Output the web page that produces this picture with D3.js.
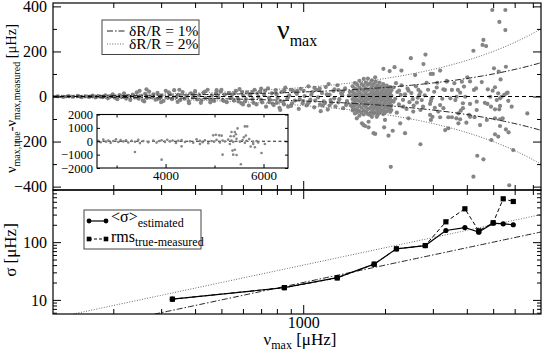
<!DOCTYPE html>
<html>
<head>
<meta charset="utf-8">
<script src="https://cdn.jsdelivr.net/npm/d3@7"></script>
<style>
body { margin: 0; background: #fff; }
text { font-family: "Liberation Serif", "DejaVu Serif", serif; fill: #000; }
</style>
</head>
<body>
<script>
// ---- data ----
// top panel: nu_max [uHz] vs (true - measured) [uHz]
var lowNuPoints = [[125,1],[131,-2],[137,2],[142,-1],[148,3],[153,-3],[158,1],[163,-2],[168,4],[172,-4],[176,2],[180,-1],
  [183,-3],[187,5],[191,-8],[195,2],[199,10],[203,-5],[207,-12],[211,6],[215,-2],[219,14],[223,-9],[227,3],[231,-15],[236,8],
  [240,-4],[244,18],[248,-10],[253,2],[257,-18],[262,12],[266,-6],[271,22],[276,-3],[281,9],[286,-14],[291,16],[296,-8],[301,4],
  [306,-20],[312,25],[317,-5],[323,11],[329,-12],[335,28],[341,-2],[347,7],[353,-16],[360,20],[366,-9],[372,3],[379,-22],[386,14],
  [393,-4],[400,24],[407,-13],[414,6],[422,-18],[430,17],[437,-7],[445,30],[453,-11],[461,5],[470,-20],[478,12],[487,-3],[496,21],
  [505,-15],[514,8],[523,-25],[532,15],[540,-6],[250,25],[300,-25],[350,30],[420,-28],[480,28],[260,-22],[380,-30],[455,-26],[500,30],
  [265,32],[290,-12],[320,18],[345,-24],[395,10],[435,22],[465,-14],[510,-20]];

var midNuPoints = [[548,10],[556,-18],[565,25],[574,-8],[583,33],[592,-30],[601,4],[611,-22],[621,18],[631,-40],[641,12],[651,-12],
  [662,30],[673,-35],[684,-2],[695,22],[706,-26],[718,8],[730,-45],[742,36],[754,-15],[766,14],[779,-38],[792,28],[805,-6],[818,-50],
  [832,20],[845,-24],[859,40],[873,-10],[888,5],[902,-42],[917,26],[932,-18],[948,12],[963,-55],[979,34],[995,-30],[1012,2],[1028,-40],
  [1045,45],[1062,-14],[1080,20],[1098,-48],[1116,30],[1134,-4],[1153,-36],[1172,16],[1191,-22],[1211,42],[1231,-58],[1251,8],[1272,-28],
  [1293,25],[1314,-44],[1336,50],[1358,-12],[1380,14],[1403,-52],[1426,36],[1449,-20],[1473,4],[1497,-40],
  [600,-35],[700,35],[800,-28],[900,30],[1000,-20],[1100,38],[1200,-30],[1300,-8],[1400,22],[650,20],[750,-25],[850,-35],[950,25],
  [1050,-26],[1150,35],[1250,-40],[1350,28],[1450,-30],[823,-60],[1160,-65],[880,-45],[1240,55],
  [544,-5],[560,15],[578,-22],[596,20],[615,-12],[636,5],[656,-28],[678,14],[700,-15],[724,26],[748,-6],[772,-32],[798,10],[825,-20],
  [852,28],[880,-2],[910,-30],[940,18],[971,-12],[1004,25],[1037,-34],[1071,8],[1107,-18],[1143,28],[1181,-40],[1221,10],[1261,-16],
  [1304,32],[1347,-26],[1392,6],[1438,-38],[1485,20]];

// dense clump around 1500-2100 uHz: one list of differences per nu column
var clumpNu = [1520,1550,1580,1610,1640,1670,1700,1730,1760,1790,1820,1850,1880,1910,1940,1970,2000,2030,2060,2090,2110];
var clumpDiff = [[45,22,5,-12,-30,-48,-62],[60,35,12,-5,-22,-40,-58,-75],[52,28,8,-15,-35,-55,-70],[70,40,18,0,-20,-42,-65,-85],
  [55,32,10,-8,-28,-50,-72],[78,48,25,3,-18,-38,-60,-80],[62,36,14,-6,-26,-46,-68],[80,52,28,6,-14,-34,-56,-78],
  [58,33,11,-10,-30,-52,-74],[72,44,20,-2,-24,-44,-66,-90],[56,30,8,-12,-34,-55,-76],[66,40,16,-5,-26,-48,-70],
  [50,26,4,-16,-38,-60,-82],[62,36,12,-8,-30,-52,-72],[45,20,0,-20,-42,-64],[55,30,8,-14,-36,-58,-78],[40,15,-6,-28,-50,-70],
  [48,24,2,-20,-44,-66],[34,10,-12,-34,-56],[42,18,-4,-26,-48,-68],[28,4,-18,-40,-60]];

var aroundClumpPoints = [[2489,170],[2818,186],[2770,144],[1973,123],[2168,130],[2080,113],[2298,115],[2581,95],[2946,100],[1840,85],
  [2195,59],[2253,26],[2440,26],[2655,29],[2846,61],[3115,61],[3375,70],[3323,29],[3035,21],[2150,-23],[2530,-12],[2620,-27],
  [2730,-16],[2930,-33],[3190,-38],[2540,-67],[2700,-60],[2930,-82],[2440,-97],[2210,-72],[2000,-104],[1690,-131],[1740,-137],
  [1840,-166],[2060,-174],[2135,-152],[1985,-137],[2700,-212],[2100,-312],[2950,-104],[3420,-141],[3330,-149],[1760,-82],[1865,-90],
  [1645,-119],[2285,7],[2675,7],[2970,-8],[2335,-45],[1575,-97],[1740,-112],[1665,-126],[1815,-163],[2370,-163],[2275,-119],
  [3190,115],[3000,100],[3375,66],[3280,32],[3525,29],[3710,29],[3835,66],[3480,-8],[3630,-16],[3870,-30],[3280,-52],[3140,-67],
  [3420,-92],[3190,-92],[2990,-90],[3660,-97],[4075,-82],
  [2150,40],[2180,-10],[2220,20],[2250,-35],[2300,50],[2330,-15],[2370,10],[2400,-55],[2420,35],[2460,-25],[2500,15],[2550,-40],
  [2600,45],[2640,-5],[2700,20],[2760,-45],[2800,5],[2880,30],[2950,-20],[3050,-50],[3100,40],[3250,-10]];

var highNuPoints = [[4963,384],[5545,384],[5270,331],[5545,295],[4604,251],[4710,224],[4230,203],[5035,125],[5240,110],[5570,132],
  [5325,76],[4017,85],[4110,67],[4540,64],[3600,59],[3905,44],[4325,36],[4250,29],[3780,17],[4780,32],[4980,26],[5080,41],[5220,14],
  [5600,14],[5650,17],[3670,-1],[3945,-1],[4880,-1],[5370,-1],[5490,7],[5300,-8],[5155,-16],[4350,-23],[4110,-33],[4660,-28],
  [4765,-33],[5685,-19],[5850,-45],[5300,-42],[4910,-45],[5080,-57],[5265,-57],[3870,-52],[3800,-63],[3725,-75],[4350,-60],
  [4110,-90],[4270,-92],[3525,-92],[3780,-101],[3985,-116],[3725,-119],[4475,-127],[4740,-104],[5080,-97],[5300,-101],[5420,-97],
  [5300,-131],[5570,-146],[5700,-159],[5080,-168],[5220,-178],[4925,-193],[5925,-238],[6680,-75],[4370,-263],[4605,-279],
  [4230,-356],[5730,-394],[4570,229]];

// inset: linear nu_max axis, wider difference range
var insetPoints = [[2627,40],[2675,-80],[2729,120],[2784,-30],[2831,60],[2879,-120],[2933,20],[2988,150],[3035,-60],[3083,90],
  [3137,-10],[3192,80],[3239,-90],[3307,30],[3375,-40],[3443,100],[3477,-140],[3545,10],[3647,-70],[3749,50],[3817,-100],[3872,20],
  [3919,70],[3987,-50],[4035,110],[4089,-20],[4144,60],[4212,-130],[4259,40],[4327,90],[4395,-60],[4497,0],[4565,-110],[4633,150],
  [4701,30],[4756,-70],[4803,80],[4871,-150],[4939,20],[4987,-40],[5041,100],[5109,-90],[5164,60],[5211,-20],[5279,120],[5313,-200],
  [5347,50],[5381,-60],[5449,180],[5517,-30],[5572,90],[5619,-120],[5653,40],[5708,160],[5789,-50],[5857,20],[5891,-90],
  [3375,-800],[3919,-1375],[4327,-380],[4701,-205],[4973,440],[5027,490],[5095,440],[5164,-1000],[5327,370],[5347,690],[5415,690],
  [5394,370],[5367,-700],[5415,-630],[5381,-1000],[5450,-1030],[5436,520],[5470,960],[5538,-1720],[5619,1110],[5667,1110],
  [5599,300],[5640,430],[5789,-200],[5823,-450],[5959,-880],[6027,-200],[5738,-400],[5145,420]];

// bottom panel
var binNu = [330, 852, 1334, 1824, 2203, 2812, 3350, 3935, 4425, 5000, 5445, 5930];
var sigmaEstimated = [10.3, 16.3, 24.3, 41.6, 76.6, 87.3, 159, 179, 149, 213, 208, 200];
var rmsTrueMeasured = [10.3, 16.3, 24.0, 41.6, 76.6, 87.3, 225, 378, 157, 217, 563, 506];

// radius uncertainties of the guide curves (delta nu = 2 * dR/R * nu)
var radiusErrors = [0.01, 0.02];
var radiusLabels = ["\u03B4R/R = 1%", "\u03B4R/R = 2%"];

// ticks
var xMajorTicks = [1000];
var xMinorTicks = [200,300,400,500,600,700,800,900,2000,3000,4000,5000,6000,7000];
var topMajorTicks = [-400,-200,0,200,400];
var topMinorTicks = [-300,-100,100,300];
var botMajorTicks = [10,100];
var botMinorTicks = [6,7,8,9,20,30,40,50,60,70,80,90,200,300,400,500,600,700,800];
var insetXTicks = [4000,6000];
var insetXMinor = [3000,5000];
var insetYTicks = [-2000,-1000,0,1000,2000];

// ---- layout ----
var W = 545, H = 353;
var L = 53, R = 541, T1 = 3, B1 = 190, B2 = 314;
var scatterGrey = "#858585";

var svg = d3.select("body").append("svg").attr("width", W).attr("height", H);

var x = d3.scaleLog().domain([120, 7500]).range([L, R]);
var yTop = d3.scaleLinear().domain([-415, 415]).range([B1, T1]);
var yBot = d3.scaleLog().domain([5.7, 800]).range([B2, B1]);
var xIn = d3.scaleLinear().domain([2600, 6500]).range([97, 288]);
var yIn = d3.scaleLinear().domain([-2000, 2000]).range([168, 114.5]);

svg.append("clipPath").attr("id", "clipTop").append("rect")
  .attr("x", L).attr("y", T1).attr("width", R - L).attr("height", B1 - T1);
svg.append("clipPath").attr("id", "clipBot").append("rect")
  .attr("x", L).attr("y", B1).attr("width", R - L).attr("height", B2 - B1);

// ---- top panel ----
var topG = svg.append("g").attr("clip-path", "url(#clipTop)");

var allTop = lowNuPoints.concat(midNuPoints, aroundClumpPoints, highNuPoints);
clumpNu.forEach(function (nu, i) {
  clumpDiff[i].forEach(function (d) { allTop.push([nu, d]); });
});

topG.selectAll("circle.pt").data(allTop).enter().append("circle")
  .attr("class", "pt")
  .attr("cx", function (d) { return x(d[0]); })
  .attr("cy", function (d) { return yTop(d[1]); })
  .attr("r", 2.1)
  .attr("fill", scatterGrey);

// guide curves, sampled along the x range
var nuSamples = d3.range(0, 201).map(function (i) { return x.invert(L + (R - L) * i / 200); });
var curveStyle = [
  { stroke: "#222", dash: "6,2,1.5,2", width: 1 },
  { stroke: "#666", dash: "1,1.6", width: 1 }
];

radiusErrors.forEach(function (f, k) {
  [1, -1].forEach(function (sign) {
    topG.append("path")
      .datum(nuSamples)
      .attr("fill", "none")
      .attr("stroke", curveStyle[k].stroke)
      .attr("stroke-width", curveStyle[k].width)
      .attr("stroke-dasharray", curveStyle[k].dash)
      .attr("d", d3.line()
        .x(function (nu) { return x(nu); })
        .y(function (nu) { return yTop(sign * 2 * f * nu); }));
  });
});

topG.append("line")
  .attr("x1", L).attr("x2", R).attr("y1", yTop(0)).attr("y2", yTop(0))
  .attr("stroke", "#000").attr("stroke-dasharray", "4,3").attr("stroke-width", 1);

// ---- inset ----
var inset = svg.append("g");
inset.append("rect")
  .attr("x", xIn.range()[0]).attr("y", yIn.range()[1])
  .attr("width", xIn.range()[1] - xIn.range()[0]).attr("height", yIn.range()[0] - yIn.range()[1])
  .attr("fill", "#fff");
inset.append("line")
  .attr("x1", xIn.range()[0]).attr("x2", xIn.range()[1]).attr("y1", yIn(0)).attr("y2", yIn(0))
  .attr("stroke", "#000").attr("stroke-dasharray", "3,2.5").attr("stroke-width", 0.9);
inset.selectAll("circle").data(insetPoints).enter().append("circle")
  .attr("cx", function (d) { return xIn(d[0]); })
  .attr("cy", function (d) { return yIn(d[1]); })
  .attr("r", 1.3)
  .attr("fill", scatterGrey);

function tidy(g, size) {
  g.select(".domain").remove();
  g.selectAll(".tick line").attr("stroke", "#000").attr("stroke-width", 1);
  g.selectAll(".tick text").attr("font-size", size).attr("font-family", "Liberation Serif");
}

inset.append("g").attr("transform", "translate(0," + yIn.range()[0] + ")")
  .call(d3.axisBottom(xIn).tickValues(insetXTicks).tickSize(-4).tickPadding(3).tickFormat(d3.format("d")))
  .call(tidy, 13);
inset.append("g").attr("transform", "translate(0," + yIn.range()[0] + ")")
  .call(d3.axisBottom(xIn).tickValues(insetXMinor).tickSize(-2.5).tickFormat(""))
  .call(tidy, 13);
inset.append("g").attr("transform", "translate(0," + yIn.range()[1] + ")")
  .call(d3.axisTop(xIn).tickValues(insetXTicks.concat(insetXMinor)).tickSize(-3).tickFormat(""))
  .call(tidy, 13);
inset.append("g").attr("transform", "translate(" + xIn.range()[0] + ",0)")
  .call(d3.axisLeft(yIn).tickValues(insetYTicks).tickSize(-3).tickPadding(4).tickFormat(d3.format("d")))
  .call(tidy, 12.5);
inset.append("g").attr("transform", "translate(" + xIn.range()[1] + ",0)")
  .call(d3.axisRight(yIn).tickValues(insetYTicks).tickSize(-3).tickFormat(""))
  .call(tidy, 13);
inset.append("rect")
  .attr("x", xIn.range()[0]).attr("y", yIn.range()[1])
  .attr("width", xIn.range()[1] - xIn.range()[0]).attr("height", yIn.range()[0] - yIn.range()[1])
  .attr("fill", "none").attr("stroke", "#000").attr("stroke-width", 1.1);

// ---- bottom panel ----
var botG = svg.append("g").attr("clip-path", "url(#clipBot)");
var botCurveStyle = [
  { stroke: "#222", dash: "6,2,1.5,2" },
  { stroke: "#666", dash: "1,1.6" }
];
radiusErrors.forEach(function (f, k) {
  botG.append("path")
    .datum(nuSamples)
    .attr("fill", "none")
    .attr("stroke", botCurveStyle[k].stroke)
    .attr("stroke-dasharray", botCurveStyle[k].dash)
    .attr("d", d3.line()
      .x(function (nu) { return x(nu); })
      .y(function (nu) { return yBot(2 * f * nu); }));
});

var rmsData = binNu.map(function (nu, i) { return [nu, rmsTrueMeasured[i]]; });
var estData = binNu.map(function (nu, i) { return [nu, sigmaEstimated[i]]; });
var pathLine = d3.line().x(function (d) { return x(d[0]); }).y(function (d) { return yBot(d[1]); });

botG.append("path").datum(rmsData)
  .attr("fill", "none").attr("stroke", "#000").attr("stroke-width", 1)
  .attr("stroke-dasharray", "4,2.5").attr("d", pathLine);
botG.selectAll("rect.sq").data(rmsData).enter().append("rect")
  .attr("class", "sq")
  .attr("x", function (d) { return x(d[0]) - 2.6; })
  .attr("y", function (d) { return yBot(d[1]) - 2.6; })
  .attr("width", 5.2).attr("height", 5.2).attr("fill", "#000");

botG.append("path").datum(estData)
  .attr("fill", "none").attr("stroke", "#000").attr("stroke-width", 1.2).attr("d", pathLine);
botG.selectAll("circle.dot").data(estData).enter().append("circle")
  .attr("class", "dot")
  .attr("cx", function (d) { return x(d[0]); })
  .attr("cy", function (d) { return yBot(d[1]); })
  .attr("r", 2.6).attr("fill", "#000");

// ---- axes (ticks point inward) ----
function xTicks(yPos, dir, withLabel) {
  var maker = dir === "up" ? d3.axisBottom : d3.axisTop;
  svg.append("g").attr("transform", "translate(0," + yPos + ")")
    .call(maker(x).tickValues(xMajorTicks).tickSize(-9).tickPadding(3)
      .tickFormat(withLabel ? d3.format("d") : ""))
    .call(tidy, 16);
  svg.append("g").attr("transform", "translate(0," + yPos + ")")
    .call(maker(x).tickValues(xMinorTicks).tickSize(-5).tickFormat(""))
    .call(tidy, 16);
}
xTicks(T1, "down", false);
xTicks(B1, "up", false);
xTicks(B1, "down", false);
xTicks(B2, "up", true);

function yTicks(scale, major, minor, fmt) {
  svg.append("g").attr("transform", "translate(" + L + ",0)")
    .call(d3.axisLeft(scale).tickValues(major).tickSize(-8).tickPadding(6).tickFormat(fmt))
    .call(tidy, 16);
  svg.append("g").attr("transform", "translate(" + L + ",0)")
    .call(d3.axisLeft(scale).tickValues(minor).tickSize(-4).tickFormat(""))
    .call(tidy, 16);
  svg.append("g").attr("transform", "translate(" + R + ",0)")
    .call(d3.axisRight(scale).tickValues(major).tickSize(-8).tickFormat(""))
    .call(tidy, 16);
  svg.append("g").attr("transform", "translate(" + R + ",0)")
    .call(d3.axisRight(scale).tickValues(minor).tickSize(-4).tickFormat(""))
    .call(tidy, 16);
}
yTicks(yTop, topMajorTicks, topMinorTicks, d3.format("d"));
yTicks(yBot, botMajorTicks, botMinorTicks, d3.format("d"));

// frames
svg.append("rect").attr("x", L).attr("y", T1).attr("width", R - L).attr("height", B1 - T1)
  .attr("fill", "none").attr("stroke", "#000").attr("stroke-width", 1.2);
svg.append("rect").attr("x", L).attr("y", B1).attr("width", R - L).attr("height", B2 - B1)
  .attr("fill", "none").attr("stroke", "#000").attr("stroke-width", 1.2);

// ---- legends ----
var leg1 = svg.append("g");
leg1.append("rect").attr("x", 102).attr("y", 20).attr("width", 97).attr("height", 34.5)
  .attr("fill", "#fff").attr("stroke", "#444").attr("stroke-width", 1);
radiusLabels.forEach(function (lab, k) {
  var yy = 31 + k * 13;
  leg1.append("line").attr("x1", 107).attr("x2", 125).attr("y1", yy).attr("y2", yy)
    .attr("stroke", curveStyle[k].stroke).attr("stroke-dasharray", curveStyle[k].dash);
  leg1.append("text").attr("x", 129).attr("y", yy + 4.5).attr("font-size", 15.5).text(lab);
});

var leg2 = svg.append("g");
leg2.append("rect").attr("x", 84).attr("y", 210).attr("width", 117).attr("height", 39)
  .attr("fill", "#fff").attr("stroke", "#444").attr("stroke-width", 1);
leg2.append("line").attr("x1", 89).attr("x2", 106).attr("y1", 221).attr("y2", 221)
  .attr("stroke", "#000").attr("stroke-width", 1.2);
[89, 106].forEach(function (xx) {
  leg2.append("circle").attr("cx", xx).attr("cy", 221).attr("r", 2.4).attr("fill", "#000");
});
leg2.append("line").attr("x1", 89).attr("x2", 106).attr("y1", 239).attr("y2", 239)
  .attr("stroke", "#000").attr("stroke-dasharray", "3,2");
[89, 106].forEach(function (xx) {
  leg2.append("rect").attr("x", xx - 2.3).attr("y", 236.7).attr("width", 4.6).attr("height", 4.6).attr("fill", "#000");
});
var t1 = leg2.append("text").attr("x", 111).attr("y", 222).attr("font-size", 16);
t1.append("tspan").text("<\u03C3>");
t1.append("tspan").attr("dy", 5).attr("font-size", 12).text("estimated");
var t2 = leg2.append("text").attr("x", 111).attr("y", 242).attr("font-size", 16);
t2.append("tspan").text("rms");
t2.append("tspan").attr("dy", 4).attr("font-size", 12).text("true-measured");

// ---- titles and axis labels ----
var title = svg.append("text").attr("x", 277).attr("y", 39).attr("font-size", 28);
title.append("tspan").text("\u03BD");
title.append("tspan").attr("dy", 7).attr("font-size", 16).text("max");

var yl1 = svg.append("text")
  .attr("transform", "translate(16," + ((T1 + B1) / 2 + 2) + ") rotate(-90)")
  .attr("text-anchor", "middle").attr("font-size", 14.5);
yl1.append("tspan").text("\u03BD");
yl1.append("tspan").attr("dy", 4).attr("font-size", 10).text("max,true");
yl1.append("tspan").attr("dy", -4).text("-\u03BD");
yl1.append("tspan").attr("dy", 4).attr("font-size", 10).text("max,measured");
yl1.append("tspan").attr("dy", -4).text(" [\u03BCHz]");

svg.append("text")
  .attr("transform", "translate(16," + ((B1 + B2) / 2 - 2) + ") rotate(-90)")
  .attr("text-anchor", "middle").attr("font-size", 17)
  .text("\u03C3 [\u03BCHz]");

var xl = svg.append("text").attr("x", 300).attr("y", 345).attr("text-anchor", "middle").attr("font-size", 17);
xl.append("tspan").text("\u03BD");
xl.append("tspan").attr("dy", 4).attr("font-size", 12).text("max");
xl.append("tspan").attr("dy", -4).text(" [\u03BCHz]");
</script>
</body>
</html>
